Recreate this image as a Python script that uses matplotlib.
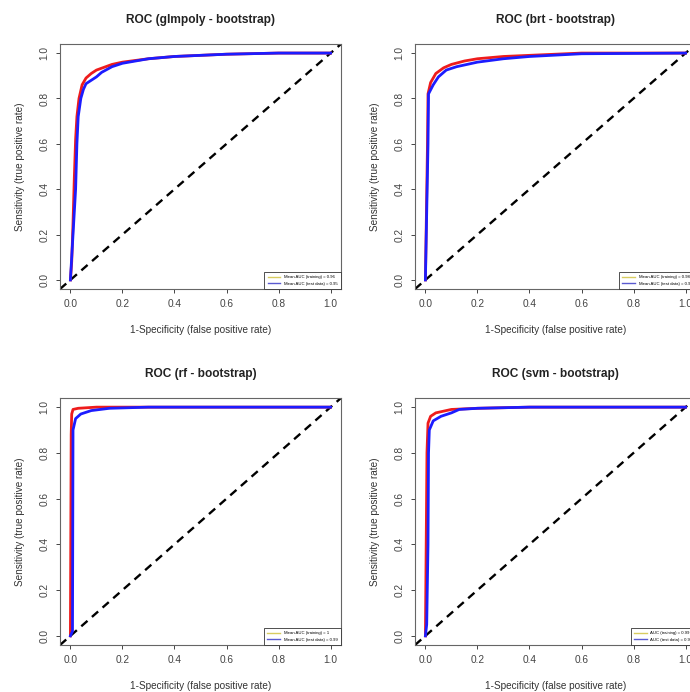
import matplotlib
matplotlib.use('Agg')
import matplotlib.pyplot as plt
from matplotlib.lines import Line2D

plt.rcParams['font.family'] = ['Liberation Sans', 'DejaVu Sans']

W, H = 690, 692
FRAME_W = 281

TITLES = ['ROC (glmpoly - bootstrap)', 'ROC (brt - bootstrap)',
          'ROC (rf - bootstrap)', 'ROC (svm - bootstrap)']
X_LABEL = '1-Specificity (false positive rate)'
Y_LABEL = 'Sensitivity (true positive rate)'
TICKS = [0.0, 0.2, 0.4, 0.6, 0.8, 1.0]
TICK_LABELS = ['0.0', '0.2', '0.4', '0.6', '0.8', '1.0']

# training (red) and test (blue) ROC curves
glm_train_fpr = [0, 0.005, 0.01, 0.015, 0.02, 0.025, 0.033, 0.045, 0.06, 0.08, 0.1, 0.16, 0.2, 0.3, 0.4, 0.6, 0.8, 1]
glm_train_tpr = [0, 0.08, 0.25, 0.45, 0.62, 0.72, 0.8, 0.86, 0.89, 0.91, 0.925, 0.95, 0.96, 0.975, 0.985, 0.995, 1, 1]
glm_test_fpr = [0, 0.01, 0.02, 0.025, 0.03, 0.04, 0.05, 0.06, 0.08, 0.1, 0.12, 0.16, 0.2, 0.3, 0.4, 0.6, 0.8, 1]
glm_test_tpr = [0, 0.2, 0.4, 0.6, 0.72, 0.8, 0.84, 0.865, 0.88, 0.895, 0.915, 0.94, 0.955, 0.975, 0.985, 0.995, 1, 1]

brt_train_fpr = [0, 0.008, 0.01, 0.02, 0.04, 0.07, 0.1, 0.15, 0.2, 0.3, 0.4, 0.6, 1]
brt_train_tpr = [0, 0.6, 0.82, 0.87, 0.91, 0.935, 0.95, 0.965, 0.975, 0.985, 0.99, 1, 1]
brt_test_fpr = [0, 0.01, 0.012, 0.03, 0.05, 0.08, 0.12, 0.2, 0.3, 0.4, 0.6, 1]
brt_test_tpr = [0, 0.6, 0.82, 0.86, 0.895, 0.925, 0.94, 0.96, 0.975, 0.985, 0.997, 1]

rf_train_fpr = [0, 0.003, 0.005, 0.01, 0.03, 0.1, 1]
rf_train_tpr = [0, 0.88, 0.97, 0.99, 0.995, 1, 1]
rf_test_fpr = [0, 0.008, 0.01, 0.02, 0.04, 0.08, 0.15, 0.3, 1]
rf_test_tpr = [0, 0.02, 0.9, 0.95, 0.97, 0.985, 0.995, 1, 1]

svm_train_fpr = [0, 0.003, 0.006, 0.01, 0.02, 0.04, 0.08, 0.1, 0.2, 0.4, 1]
svm_train_tpr = [0, 0.4, 0.8, 0.93, 0.96, 0.975, 0.985, 0.99, 0.995, 1, 1]
svm_test_fpr = [0, 0.005, 0.01, 0.012, 0.015, 0.03, 0.06, 0.1, 0.13, 0.2, 0.4, 1]
svm_test_tpr = [0, 0.05, 0.4, 0.8, 0.9, 0.94, 0.96, 0.975, 0.99, 0.995, 1, 1]

LEGENDS = [
    ['Mean AUC (training) = 0.96', 'Mean AUC (test data) = 0.95'],
    ['Mean AUC (training) = 0.98', 'Mean AUC (test data) = 0.97'],
    ['Mean AUC (training) = 1', 'Mean AUC (test data) = 0.99'],
    ['AUC (training) = 0.99', 'AUC (test data) = 0.98'],
]

curves = [
    (glm_train_fpr, glm_train_tpr, glm_test_fpr, glm_test_tpr),
    (brt_train_fpr, brt_train_tpr, brt_test_fpr, brt_test_tpr),
    (rf_train_fpr, rf_train_tpr, rf_test_fpr, rf_test_tpr),
    (svm_train_fpr, svm_train_tpr, svm_test_fpr, svm_test_tpr),
]

# frame positions in pixels: (left, top, bottom)
FRAMES = [(60, 44, 289), (415, 44, 289), (60, 398, 645), (415, 398, 645)]

fig = plt.figure(figsize=(W / 100, H / 100), dpi=100)
fig.patch.set_facecolor('white')

for i, (left, top, bottom) in enumerate(FRAMES):
    fh = bottom - top
    ax = fig.add_axes([left / W, (H - bottom) / H, FRAME_W / W, fh / H])
    tr_x, tr_y, te_x, te_y = curves[i]
    ax.plot([-0.04, 1.04], [-0.04, 1.04], color='black', lw=1.7,
            dashes=(3.5, 2.5), zorder=1)
    ax.plot(tr_x, tr_y, color='#ee1c1c', lw=2.0, zorder=2)
    ax.plot(te_x, te_y, color='#1c1cff', lw=2.0, zorder=3)
    ax.set_xlim(-0.04, 1.04)
    ax.set_ylim(-0.04, 1.04)
    ax.set_xticks(TICKS)
    ax.set_xticklabels(TICK_LABELS)
    ax.set_yticks(TICKS)
    ax.set_yticklabels(TICK_LABELS, rotation=90, va='center')
    ax.tick_params(direction='out', length=3, width=0.7, labelsize=7.3,
                   colors='#444444', pad=4.5)
    for s in ax.spines.values():
        s.set_color('#666666')
        s.set_linewidth(0.8)

    ax.text(0.5, 1 + 24 / fh, TITLES[i], transform=ax.transAxes,
            ha='center', va='center', fontsize=8.6, fontweight='bold',
            color='#222222')
    ax.text(0.5, -41 / fh, X_LABEL, transform=ax.transAxes,
            ha='center', va='center', fontsize=7.2, color='#333333')
    ax.text(-40 / FRAME_W, 0.5, Y_LABEL, transform=ax.transAxes,
            ha='center', va='center', rotation=90, fontsize=7.2,
            color='#333333')

    handles = [Line2D([], [], color='#d8cc60', lw=1),
               Line2D([], [], color='#5a5ad0', lw=1)]
    leg = ax.legend(handles, LEGENDS[i], loc='lower right', fontsize=3.1,
                    borderaxespad=0, fancybox=False, framealpha=1,
                    handlelength=3, borderpad=0.8, labelspacing=0.5)
    leg.get_frame().set_edgecolor('#333333')
    leg.get_frame().set_linewidth(0.6)

fig.savefig('out.png', dpi=100)
